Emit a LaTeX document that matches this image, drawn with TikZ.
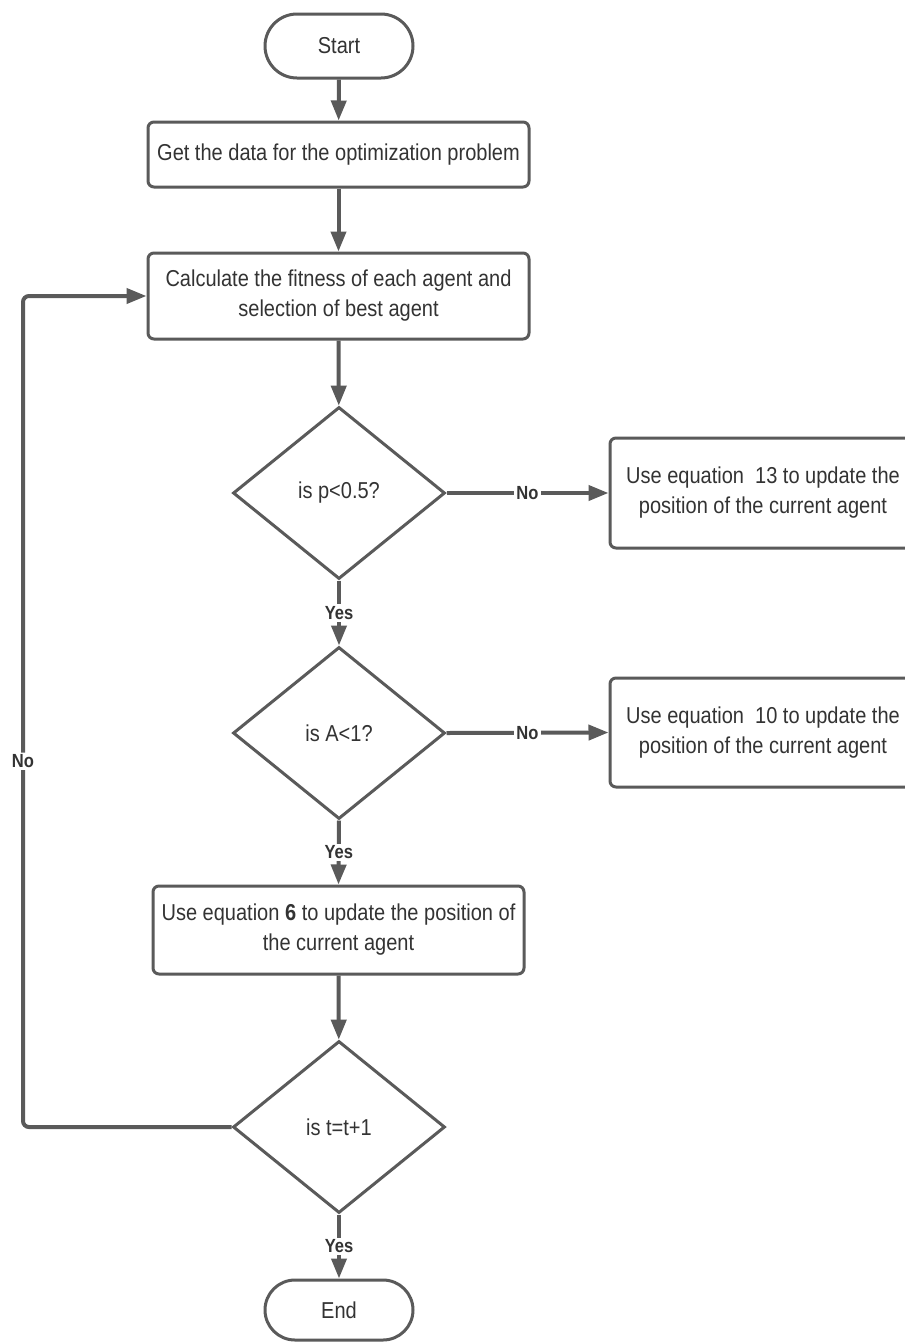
\documentclass[tikz,border=0pt]{standalone}
\usepackage{fontspec}
\setmainfont{Liberation Sans}[FakeStretch=0.87]
\usetikzlibrary{shapes.geometric,shapes.misc,arrows.meta}
\definecolor{strk}{HTML}{5A5A5A}
\definecolor{txt}{HTML}{333333}
\begin{document}
\begin{tikzpicture}[x=1pt,y=-1pt,
  every node/.style={text=txt,font=\fontsize{23}{30}\selectfont},
  term/.style={rounded rectangle,draw=strk,line width=3pt,minimum width=148pt,minimum height=64pt,inner sep=0pt},
  procbox/.style={rectangle,draw=strk,line width=3pt,rounded corners=6pt,align=center,inner sep=0pt},
  decis/.style={diamond,draw=strk,line width=3pt,aspect=1.23,minimum width=212pt,minimum height=172pt,inner sep=0pt},
  conn/.style={draw=strk,line width=4pt,-{Triangle[width=15pt,length=20pt]}},
  lab/.style={fill=white,inner sep=2pt,font=\fontsize{19}{21}\selectfont\bfseries},
]
\useasboundingbox (0,0) rectangle (905,1342);
\fill[white] (0,0) rectangle (905,1342);

\node[term] (start) at (339,46) {Start};
\node[procbox,minimum width=381pt,minimum height=65pt] (b1) at (338.5,154.5) {Get the data for the optimization problem};
\node[procbox,minimum width=381pt,minimum height=86pt] (b2) at (338.5,296) {Calculate the fitness of each agent and\\selection of best agent};
\node[decis] (d1) at (339,493) {is p<0.5?};
\node[procbox,minimum width=306pt,minimum height=110pt] (b3) at (763,493) {Use equation\ \ 13 to update the\\position of the current agent};
\node[decis] (d2) at (339,733) {is A<1?};
\node[procbox,minimum width=306pt,minimum height=109pt] (b4) at (763,732.5) {Use equation\ \ 10 to update the\\position of the current agent};
\node[procbox,minimum width=371pt,minimum height=88pt] (b5) at (338.5,930) {Use equation \textbf{6} to update the position of\\the current agent};
\node[decis] (d3) at (339,1127) {is t=t+1};
\node[term,minimum height=60pt] (end) at (339,1310) {End};

\coordinate (lb) at (23,1127);
\coordinate (lt) at (23,296);

\draw[conn] (start) -- (b1);
\draw[conn] (b1) -- (b2);
\draw[conn] (b2) -- (d1);
\draw[conn] (d1.east) -- node[lab]{No} (b3.west);
\draw[conn] (d1.south) -- node[lab]{Yes} (d2.north);
\draw[conn] (d2.east) -- node[lab]{No} (b4.west);
\draw[conn] (d2.south) -- node[lab]{Yes} (b5.north);
\draw[conn] (b5) -- (d3);
\draw[conn] (d3.south) -- node[lab]{Yes} (end.north);
\draw[conn,rounded corners=6pt] (d3.west) -- (lb) -- node[lab,pos=0.44]{No} (lt) -- (b2.west);
\end{tikzpicture}
\end{document}
